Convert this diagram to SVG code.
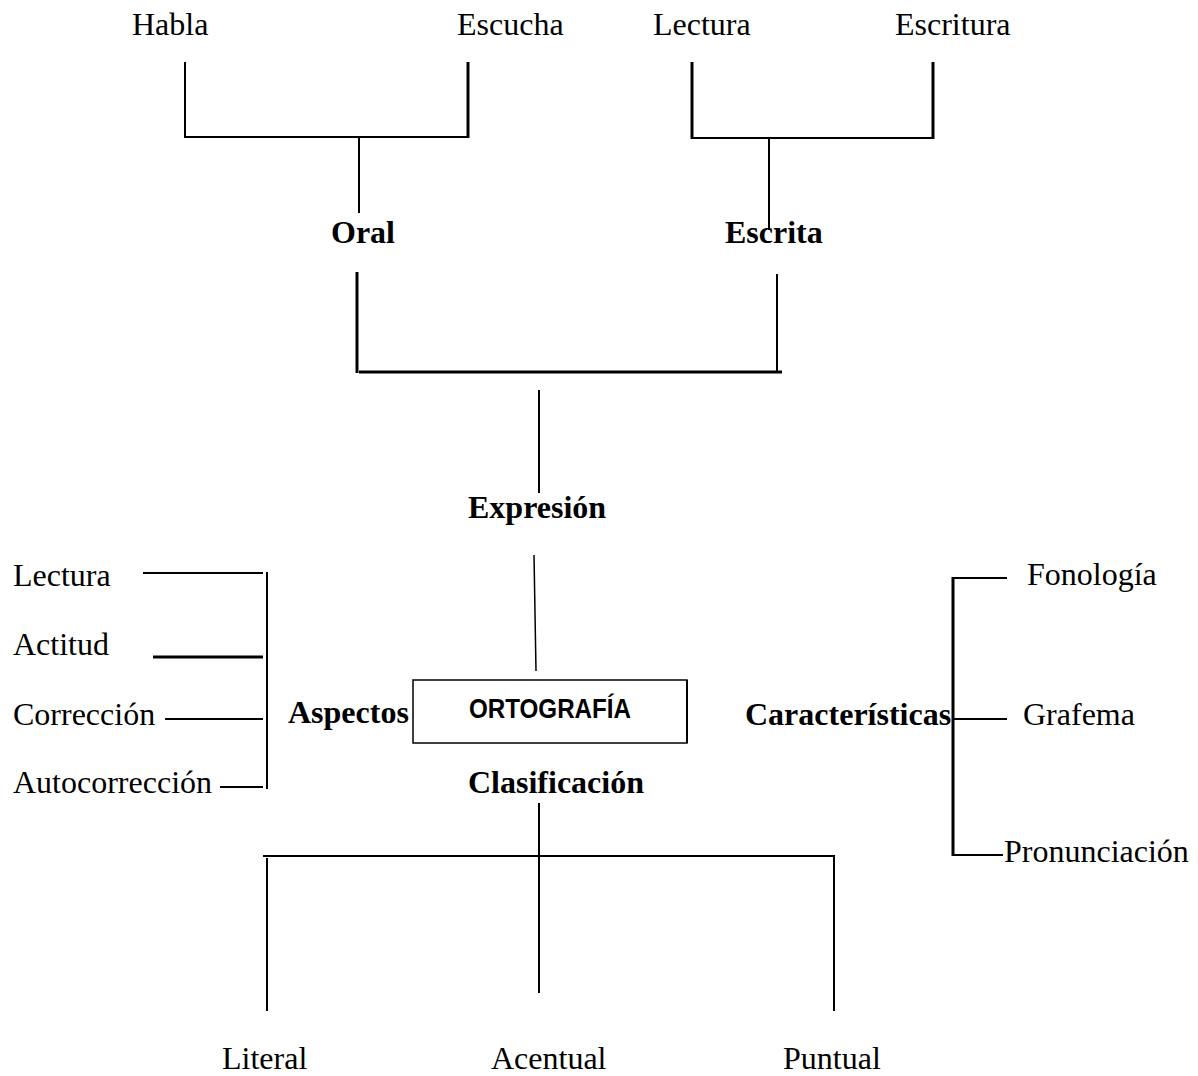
<svg xmlns="http://www.w3.org/2000/svg" width="1198" height="1076" viewBox="0 0 1198 1076">
<style>
.t{font-family:"Liberation Serif","Times New Roman",serif;font-size:32px;fill:#000}
.b{font-weight:bold}
.box{font-family:"Liberation Sans",Arial,sans-serif;font-size:27px;font-weight:bold;fill:#000}
.l{stroke:#000;stroke-width:2;fill:none}
.k{stroke:#000;stroke-width:3;fill:none}
.n{stroke:#000;stroke-width:1.5;fill:none}
</style>
<rect width="1198" height="1076" fill="#fff"/>
<g id="connectors">
  <line class="l" x1="185" y1="62" x2="185" y2="138"/>
  <line class="k" x1="468" y1="62" x2="468" y2="138"/>
  <line class="l" x1="185" y1="137" x2="469" y2="137"/>
  <line class="l" x1="359" y1="137" x2="359" y2="213"/>
  <line class="k" x1="692" y1="62" x2="692" y2="139"/>
  <line class="k" x1="933" y1="62" x2="933" y2="139"/>
  <line class="l" x1="692" y1="138" x2="934" y2="138"/>
  <line class="l" x1="769" y1="138" x2="769" y2="230"/>
  <line class="k" x1="357" y1="272" x2="357" y2="373"/>
  <line class="l" x1="777" y1="274" x2="777" y2="371"/>
  <line class="k" x1="359" y1="372" x2="782" y2="372"/>
  <line class="l" x1="539" y1="390" x2="539" y2="493"/>
  <line class="n" x1="534" y1="555" x2="536" y2="671"/>
  <line class="l" x1="143" y1="573" x2="263" y2="573"/>
  <line class="k" x1="153" y1="657" x2="263" y2="657"/>
  <line class="l" x1="165" y1="719" x2="263" y2="719"/>
  <line class="l" x1="220" y1="787" x2="263" y2="787"/>
  <line class="l" x1="267" y1="572" x2="267" y2="789"/>
  <line class="k" x1="953" y1="577" x2="953" y2="856"/>
  <line class="l" x1="953" y1="578" x2="1007" y2="578"/>
  <line class="l" x1="953" y1="719" x2="1007" y2="719"/>
  <line class="l" x1="953" y1="855" x2="1003" y2="855"/>
  <line class="l" x1="539" y1="803" x2="539" y2="993"/>
  <line class="l" x1="263" y1="856" x2="835" y2="856"/>
  <line class="l" x1="267" y1="858" x2="267" y2="1011"/>
  <line class="l" x1="834" y1="856" x2="834" y2="1011"/>
</g>
<g id="habla"><text class="t" x="132" y="35">Habla</text></g>
<g id="escucha"><text class="t" x="457" y="35">Escucha</text></g>
<g id="lectura-top"><text class="t" x="653" y="35">Lectura</text></g>
<g id="escritura"><text class="t" x="895" y="35">Escritura</text></g>
<g id="oral"><text class="t b" x="331" y="243">Oral</text></g>
<g id="escrita"><text class="t b" x="725" y="243">Escrita</text></g>
<g id="expresion"><text class="t b" x="468" y="518">Expresión</text></g>
<g id="lectura"><text class="t" x="13" y="586">Lectura</text></g>
<g id="actitud"><text class="t" x="13" y="655">Actitud</text></g>
<g id="correccion"><text class="t" x="13" y="725">Corrección</text></g>
<g id="autocorreccion"><text class="t" x="13" y="793">Autocorrección</text></g>
<g id="aspectos"><text class="t b" x="288" y="723">Aspectos</text></g>
<g id="ortografia">
  <rect class="n" x="413" y="680" width="274" height="63"/>
  <line class="l" x1="687" y1="680" x2="687" y2="743"/>
  <text class="box" x="550" y="718" text-anchor="middle" textLength="162" lengthAdjust="spacingAndGlyphs">ORTOGRAFÍA</text>
</g>
<g id="clasificacion"><text class="t b" x="468" y="793">Clasificación</text></g>
<g id="caracteristicas"><text class="t b" x="745" y="725">Características</text></g>
<g id="fonologia"><text class="t" x="1027" y="585">Fonología</text></g>
<g id="grafema"><text class="t" x="1023" y="725">Grafema</text></g>
<g id="pronunciacion"><text class="t" x="1004" y="862">Pronunciación</text></g>
<g id="literal"><text class="t" x="222" y="1069">Literal</text></g>
<g id="acentual"><text class="t" x="491" y="1069">Acentual</text></g>
<g id="puntual"><text class="t" x="783" y="1069">Puntual</text></g>
</svg>
